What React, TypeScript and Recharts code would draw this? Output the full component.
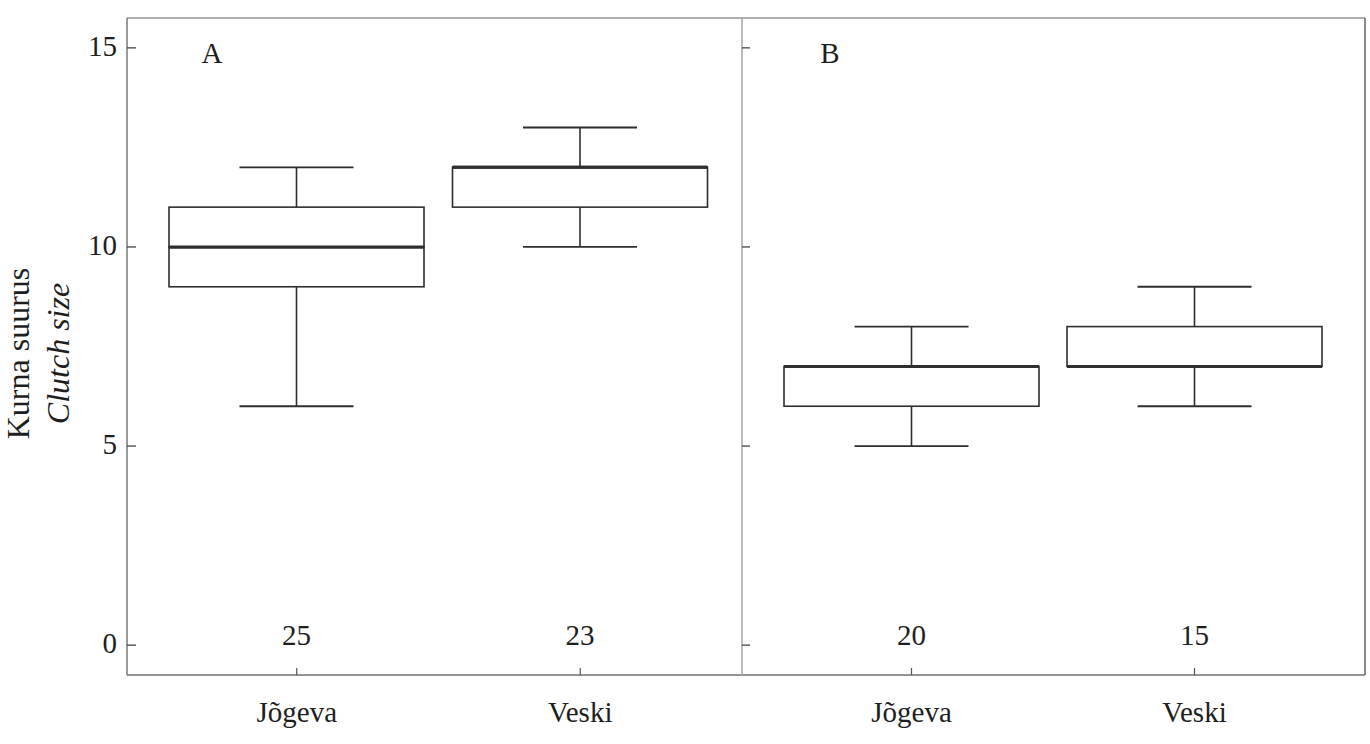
import React from 'react';
import { ComposedChart, Bar, XAxis, YAxis, ReferenceLine, LabelList } from 'recharts';

const SITES = ['Jõgeva', 'Veski'];
const A_MIN = [6, 10];
const A_Q1 = [9, 11];
const A_MEDIAN = [10, 12];
const A_Q3 = [11, 12];
const A_MAX = [12, 13];
const A_N = [25, 23];
const B_MIN = [5, 6];
const B_Q1 = [6, 7];
const B_MEDIAN = [7, 7];
const B_Q3 = [7, 8];
const B_MAX = [8, 9];
const B_N = [20, 15];
const Y_TICKS = [0, 5, 10, 15];
const Y_DOMAIN: [number, number] = [-0.75, 15.75];
const PANELS = ['A', 'B'];
const Y_TITLE = 'Kurna suurus';
const Y_TITLE_EN = 'Clutch size';

function buildRows(min: number[], q1: number[], med: number[], q3: number[], max: number[], n: number[]) {
  return SITES.map((site, i) => ({
    site,
    n: n[i],
    base: min[i],
    lw: q1[i] - min[i],
    lb: med[i] - q1[i],
    ub: q3[i] - med[i],
    uw: max[i] - q3[i],
  }));
}

const rowsA = buildRows(A_MIN, A_Q1, A_MEDIAN, A_Q3, A_MAX, A_N);
const rowsB = buildRows(B_MIN, B_Q1, B_MEDIAN, B_Q3, B_MAX, B_N);

const FONT = "'Liberation Serif', 'DejaVu Serif', serif";
const TEXT = '#1e1e1e';
const INK = '#2e2e2e';
const AXIS = '#707070';
const FRAME_TOP = '#959595';
const DIVIDER = '#ababab';
const CAP = 57;
const BOX_W = 255;

const LowerWhisker = (p: any) => {
  const cx = p.x + p.width / 2;
  const yb = p.y + p.height;
  return (
    <g>
      <line x1={cx} x2={cx} y1={p.y} y2={yb} stroke={INK} strokeWidth={1.6} />
      <line x1={cx - CAP} x2={cx + CAP} y1={yb} y2={yb} stroke={INK} strokeWidth={1.8} />
    </g>
  );
};

const UpperWhisker = (p: any) => {
  const cx = p.x + p.width / 2;
  return (
    <g>
      <line x1={cx} x2={cx} y1={p.y} y2={p.y + p.height} stroke={INK} strokeWidth={1.6} />
      <line x1={cx - CAP} x2={cx + CAP} y1={p.y} y2={p.y} stroke={INK} strokeWidth={1.8} />
    </g>
  );
};

const LowerBox = (p: any) => (
  <g>
    <rect x={p.x} y={p.y} width={p.width} height={Math.max(p.height, 0)} fill="#fff" stroke={INK} strokeWidth={1.6} />
    <line x1={p.x} x2={p.x + p.width} y1={p.y} y2={p.y} stroke={INK} strokeWidth={3} />
  </g>
);

const UpperBox = (p: any) => (
  <g>
    <rect x={p.x} y={p.y} width={p.width} height={Math.max(p.height, 0)} fill="#fff" stroke={INK} strokeWidth={1.6} />
    <line x1={p.x} x2={p.x + p.width} y1={p.y + p.height} y2={p.y + p.height} stroke={INK} strokeWidth={3} />
  </g>
);

const X_MARGIN = 47;
const XTick = (props: any) => {
  const { x, y, payload } = props;
  return (
    <g>
      <line x1={x} x2={x} y1={y - X_MARGIN} y2={y - X_MARGIN - 7} stroke="#555" strokeWidth={1.2} />
      <text x={x} y={y} textAnchor="middle" fontFamily={FONT} fontSize={29} fill={TEXT}>
        {payload.value}
      </text>
    </g>
  );
};

const YTickLeft = (props: any) => {
  const { x, y, payload } = props;
  return (
    <g>
      <line x1={x + 10} x2={x + 19} y1={y} y2={y} stroke="#444" strokeWidth={1.3} />
      <text x={x} y={y + 8} textAnchor="end" fontFamily={FONT} fontSize={29} fill={TEXT}>
        {payload.value}
      </text>
    </g>
  );
};

const YTickInner = (props: any) => {
  const { x, y } = props;
  return <line x1={x} x2={x + 8} y1={y} y2={y} stroke="#444" strokeWidth={1.3} />;
};

const YTitle = (props: any) => {
  const vb = props.viewBox || { x: 0, y: 18, width: 127, height: 657 };
  const cy = vb.y + vb.height / 2 + 7;
  return (
    <g>
      <text x={29} y={cy} transform={`rotate(-90, 29, ${cy})`} textAnchor="middle" fontFamily={FONT} fontSize={32} fill={TEXT}>
        {Y_TITLE}
      </text>
      <text x={69} y={cy} transform={`rotate(-90, 69, ${cy})`} textAnchor="middle" fontFamily={FONT} fontStyle="italic" fontSize={32} fill={TEXT}>
        {Y_TITLE_EN}
      </text>
    </g>
  );
};

const panelLabel = (text: string, dx: number) => (props: any) => {
  const vb = props.viewBox || { x: 0, y: 0 };
  return (
    <text x={vb.x + dx} y={vb.y + 45} textAnchor="middle" fontFamily={FONT} fontSize={29} fill={TEXT}>
      {text}
    </text>
  );
};

const nLabelStyle = { fontFamily: FONT, fontSize: 29, fill: TEXT };

const renderBars = () => [
  <Bar key="base" dataKey="base" stackId="s" fill="none" barSize={BOX_W} isAnimationActive={false}>
    <LabelList dataKey="n" position="insideBottom" offset={0} style={nLabelStyle} />
  </Bar>,
  <Bar key="lw" dataKey="lw" stackId="s" barSize={BOX_W} shape={LowerWhisker} isAnimationActive={false} />,
  <Bar key="lb" dataKey="lb" stackId="s" barSize={BOX_W} shape={LowerBox} isAnimationActive={false} />,
  <Bar key="ub" dataKey="ub" stackId="s" barSize={BOX_W} shape={UpperBox} isAnimationActive={false} />,
  <Bar key="uw" dataKey="uw" stackId="s" barSize={BOX_W} shape={UpperWhisker} isAnimationActive={false} />,
];

export default function App() {
  return (
    <div style={{ position: 'absolute', left: 0, top: 0, width: 1370, height: 744, background: '#fff' }}>
      <div style={{ position: 'absolute', left: 0, top: 0 }}>
        <ComposedChart width={742} height={744} data={rowsA} margin={{ top: 18, right: 0, bottom: 0, left: 0 }}>
          <XAxis
            dataKey="site"
            height={69}
            padding={{ left: 28, right: 20 }}
            axisLine={{ stroke: AXIS, strokeWidth: 1.4 }}
            tickLine={false}
            tickSize={0}
            tickMargin={X_MARGIN}
            interval={0}
            tick={(p: any) => <XTick {...p} />}
          />
          <YAxis
            type="number"
            width={127}
            domain={Y_DOMAIN}
            allowDataOverflow
            ticks={Y_TICKS}
            interval={0}
            axisLine={{ stroke: AXIS, strokeWidth: 1.4 }}
            tickLine={false}
            tickSize={0}
            tickMargin={10}
            tick={(p: any) => <YTickLeft {...p} />}
            label={{ content: YTitle }}
          />
          <ReferenceLine y={Y_DOMAIN[1]} stroke={FRAME_TOP} strokeWidth={1.4} label={panelLabel(PANELS[0], 85)} />
          {renderBars()}
        </ComposedChart>
      </div>
      <div style={{ position: 'absolute', left: 740, top: 0 }}>
        <ComposedChart width={630} height={744} data={rowsB} margin={{ top: 18, right: 4, bottom: 0, left: 1 }}>
          <XAxis
            dataKey="site"
            height={69}
            padding={{ left: 28, right: 29 }}
            axisLine={{ stroke: AXIS, strokeWidth: 1.4 }}
            tickLine={false}
            tickSize={0}
            tickMargin={X_MARGIN}
            interval={0}
            tick={(p: any) => <XTick {...p} />}
          />
          <YAxis
            type="number"
            width={1}
            domain={Y_DOMAIN}
            allowDataOverflow
            ticks={Y_TICKS}
            interval={0}
            axisLine={{ stroke: DIVIDER, strokeWidth: 1.6 }}
            tickLine={false}
            tickSize={0}
            tickMargin={0}
            tick={(p: any) => <YTickInner {...p} />}
          />
          <YAxis
            yAxisId="right"
            orientation="right"
            type="number"
            width={1}
            domain={Y_DOMAIN}
            allowDataOverflow
            ticks={Y_TICKS}
            tick={false}
            tickLine={false}
            axisLine={{ stroke: '#5a5a5a', strokeWidth: 1.4 }}
          />
          <ReferenceLine y={Y_DOMAIN[1]} stroke={FRAME_TOP} strokeWidth={1.4} label={panelLabel(PANELS[1], 88)} />
          {renderBars()}
        </ComposedChart>
      </div>
    </div>
  );
}
